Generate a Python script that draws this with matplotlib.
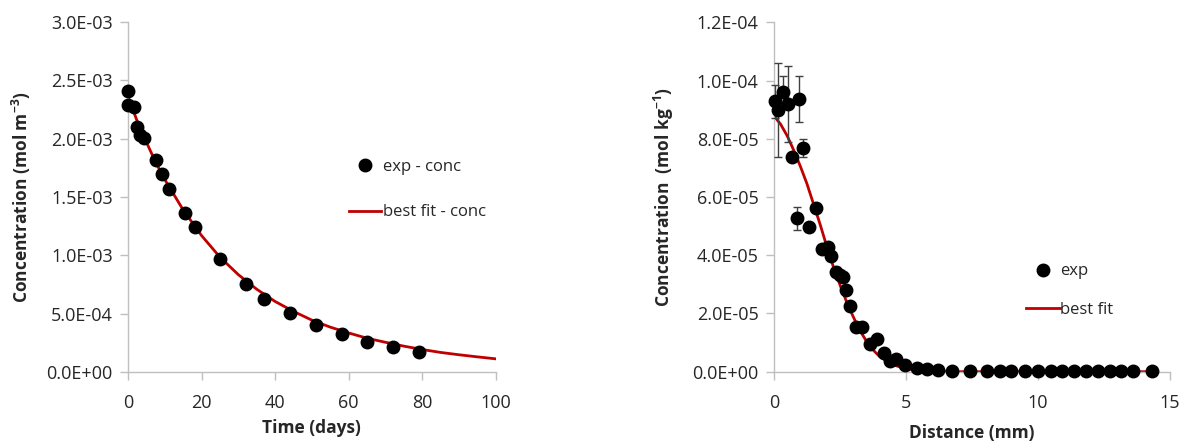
import matplotlib
matplotlib.use("Agg")
import matplotlib.pyplot as plt
from matplotlib.lines import Line2D
from matplotlib.ticker import FormatStrFormatter

# ---- left panel: concentration vs time ----
time_exp = [0, 0, 1.7, 2.4, 3.3, 4.4, 7.5, 9.3, 11.2, 15.5, 18.2, 25.0, 32.0,
            37.1, 44.1, 51.2, 58.2, 65.0, 72.2, 79.1]
conc_exp = [2.41e-3, 2.29e-3, 2.27e-3, 2.10e-3, 2.03e-3, 2.01e-3, 1.82e-3,
            1.70e-3, 1.57e-3, 1.36e-3, 1.24e-3, 0.966e-3, 0.754e-3, 0.623e-3,
            0.508e-3, 0.403e-3, 0.326e-3, 0.254e-3, 0.212e-3, 0.169e-3]
time_fit = [0, 2.5, 5, 7.5, 10, 15, 20, 25, 30, 35, 40, 45, 50, 55, 60, 65,
            70, 75, 80, 85, 90, 95, 100]
conc_fit = [2.36e-3, 2.15e-3, 1.97e-3, 1.80e-3, 1.65e-3, 1.39e-3, 1.17e-3,
            0.985e-3, 0.835e-3, 0.71e-3, 0.605e-3, 0.52e-3, 0.445e-3,
            0.385e-3, 0.335e-3, 0.29e-3, 0.255e-3, 0.222e-3, 0.193e-3,
            0.168e-3, 0.148e-3, 0.13e-3, 0.113e-3]

# ---- right panel: concentration vs distance ----
dist_exp = [0.04, 0.16, 0.35, 0.52, 0.96, 0.67, 1.09, 0.86, 1.33, 1.58, 1.80,
            2.03, 2.16, 2.35, 2.50, 2.60, 2.73, 2.88, 3.10, 3.32, 3.64, 3.92,
            4.15, 4.38, 4.62, 4.97, 5.40, 5.79, 6.21, 6.74, 7.41, 8.08, 8.57,
            8.99, 9.49, 10.0, 10.48, 10.9, 11.36, 11.82, 12.29, 12.71, 13.16,
            13.59, 14.32]
conc_dist = [9.28e-5, 8.99e-5, 9.59e-5, 9.20e-5, 9.36e-5, 7.39e-5, 7.68e-5,
             5.27e-5, 4.98e-5, 5.61e-5, 4.20e-5, 4.27e-5, 3.97e-5, 3.44e-5,
             3.32e-5, 3.26e-5, 2.81e-5, 2.27e-5, 1.55e-5, 1.55e-5, 0.95e-5,
             1.11e-5, 0.63e-5, 0.38e-5, 0.43e-5, 0.23e-5, 0.13e-5, 0.09e-5,
             0.06e-5, 0.03e-5, 0.02e-5, 0.01e-5, 0.01e-5, 0.01e-5, 0.01e-5,
             0.01e-5, 0.01e-5, 0.01e-5, 0.01e-5, 0.01e-5, 0.01e-5, 0.01e-5,
             0.01e-5, 0.01e-5, 0.01e-5]
conc_err = [0.57e-5, 1.6e-5, 0.57e-5, 1.3e-5, 0.8e-5, 0, 0.3e-5, 0.4e-5, 0,
            0.1e-5, 0, 0, 0, 0.15e-5, 0.1e-5, 0.15e-5, 0, 0, 0, 0, 0, 0, 0,
            0, 0, 0, 0, 0, 0, 0, 0, 0, 0, 0, 0, 0, 0, 0, 0, 0, 0, 0, 0, 0, 0]
dist_fit = [0, 0.25, 0.5, 0.75, 1.0, 1.25, 1.5, 1.75, 2.0, 2.25, 2.5, 2.75,
            3.0, 3.25, 3.5, 3.75, 4.0, 4.5, 5.0, 5.5, 6.0, 7.0, 14.32]
conc_fit_d = [8.78e-5, 8.5e-5, 8.1e-5, 7.6e-5, 7.05e-5, 6.45e-5, 5.75e-5,
              5.05e-5, 4.3e-5, 3.6e-5, 2.98e-5, 2.4e-5, 1.89e-5, 1.42e-5,
              1.05e-5, 0.75e-5, 0.52e-5, 0.24e-5, 0.1e-5, 0.04e-5, 0.015e-5,
              0.0, 0.0]

RED = "#c00000"
AXCOL = "#bfbfbf"
TXT = "#262626"
plt.rcParams["font.family"] = ["Open Sans", "DejaVu Sans"]
plt.rcParams["mathtext.fontset"] = "custom"
plt.rcParams["mathtext.bf"] = "Open Sans:bold"
plt.rcParams["mathtext.rm"] = "Open Sans"

W, H = 1183, 441
fig = plt.figure(figsize=(W / 100, H / 100), dpi=100)


def style(ax):
    for s in ["top", "right"]:
        ax.spines[s].set_visible(False)
    for s in ["left", "bottom"]:
        ax.spines[s].set_color(AXCOL)
        ax.spines[s].set_linewidth(1.0)
    ax.tick_params(direction="out", length=6, width=1, color=AXCOL,
                   labelsize=13, labelcolor=TXT)
    ax.tick_params(axis="x", pad=10)
    ax.tick_params(axis="y", pad=5)
    ax.yaxis.set_major_formatter(FormatStrFormatter("%.1E"))


dot = Line2D([], [], ls="none", marker="o", color="black", ms=9)

# left
ax1 = fig.add_axes([128 / W, 69 / H, 367.5 / W, 350 / H])
ax1.plot(time_fit, conc_fit, color=RED, lw=2, zorder=2)
ax1.plot(time_exp, conc_exp, "o", color="black", ms=9, clip_on=False, zorder=3)
ax1.set_xlim(0, 100)
ax1.set_ylim(0, 3.0e-3)
ax1.set_xticks([0, 20, 40, 60, 80, 100])
ax1.set_yticks([0, 0.5e-3, 1.0e-3, 1.5e-3, 2.0e-3, 2.5e-3, 3.0e-3])
style(ax1)
ax1.set_xlabel("Time (days)", fontsize=12.5, fontweight="bold", color=TXT, labelpad=5)
ax1.set_ylabel("Concentration (mol m$^{\\mathbf{-3}}$)", fontsize=12.5,
               fontweight="bold", color=TXT, labelpad=10)
ax1.legend([dot, Line2D([], [], color=RED, lw=2)], ["exp - conc", "best fit - conc"],
           loc="upper left", bbox_to_anchor=(341 / W, 1 - 151 / H),
           bbox_transform=fig.transFigure, frameon=False, fontsize=12,
           handlelength=1.9, handletextpad=0.1, labelspacing=1.75, borderpad=0,
           labelcolor=TXT)

# right
ax2 = fig.add_axes([774 / W, 69.3 / H, 396 / W, 349.4 / H])
ax2.plot(dist_fit, conc_fit_d, color=RED, lw=2, zorder=2)
ax2.errorbar(dist_exp, conc_dist, yerr=conc_err, fmt="o", color="black", ms=9,
             ecolor="#404040", elinewidth=1, capsize=3, capthick=1,
             clip_on=False, zorder=3)
ax2.set_xlim(0, 15)
ax2.set_ylim(0, 1.2e-4)
ax2.set_xticks([0, 5, 10, 15])
ax2.set_yticks([0, 2e-5, 4e-5, 6e-5, 8e-5, 1.0e-4, 1.2e-4])
style(ax2)
ax2.set_xlabel("Distance (mm)", fontsize=12.5, fontweight="bold", color=TXT, labelpad=9)
ax2.set_ylabel("Concentration  (mol kg$^{\\mathbf{-1}}$)", fontsize=12.5,
               fontweight="bold", color=TXT, labelpad=12)
ax2.legend([dot, Line2D([], [], color=RED, lw=2)], ["exp", "best fit"],
           loc="upper left", bbox_to_anchor=(1018 / W, 1 - 255 / H),
           bbox_transform=fig.transFigure, frameon=False, fontsize=12,
           handlelength=2.0, handletextpad=0.05, labelspacing=1.35, borderpad=0,
           labelcolor=TXT)

fig.savefig("out.png", dpi=100)
